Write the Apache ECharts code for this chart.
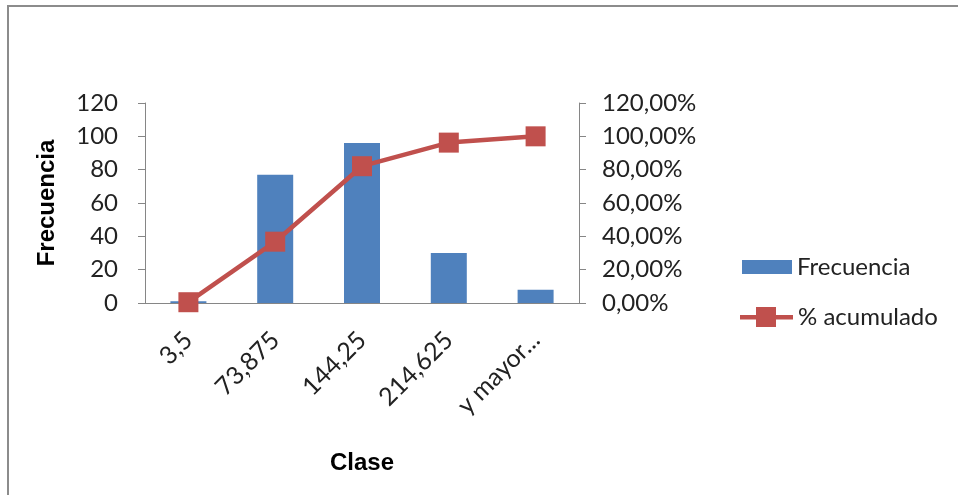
<!DOCTYPE html>
<html>
<head>
<meta charset="utf-8">
<script src="https://cdn.jsdelivr.net/npm/echarts@6/dist/echarts.min.js"></script>
<style>
  html, body { margin: 0; padding: 0; background: #fff; }
  #chart { width: 958px; height: 495px; }
</style>
</head>
<body>
<div id="chart"></div>
<script>
// Histogram classes and frequencies
const clases = ['3,5', '73,875', '144,25', '214,625', 'y mayor...'];
const frecuencia = [1, 77, 96, 30, 8];
// Cumulative percentage per class
const acumulado = [0.47, 36.79, 82.08, 96.23, 100.00];
const leftTicks = [0, 20, 40, 60, 80, 100, 120];

const axisGray = '#868686';
const txtFont = 'Lato, "Open Sans", sans-serif';
const boldFont = '"Liberation Sans", Arial, sans-serif';
const legendText = { fontFamily: txtFont, fontSize: 24, color: '#222', lineHeight: 24 };

const chart = echarts.init(document.getElementById('chart'));
chart.setOption({
  animation: false,
  backgroundColor: '#fff',
  grid: { left: 145, right: 379, top: 103, bottom: 192 },
  legend: [
    {
      left: 742,
      top: 255,
      padding: 0,
      itemWidth: 50,
      itemHeight: 14,
      itemGap: 7,
      icon: 'rect',
      textStyle: legendText,
      data: ['Frecuencia']
    },
    {
      left: 740,
      top: 305,
      padding: 0,
      itemWidth: 53,
      itemHeight: 20,
      // line with a square marker in the middle
      icon: 'path://M0,8 L53,8 L53,12.5 L0,12.5 Z M16,0 L36,0 L36,20 L16,20 Z',
      textStyle: legendText,
      data: ['% acumulado']
    }
  ],
  xAxis: {
    type: 'category',
    data: clases,
    name: 'Clase',
    nameLocation: 'middle',
    nameGap: 148,
    nameTextStyle: { fontFamily: boldFont, fontWeight: 'bold', fontSize: 24, color: '#000' },
    axisLine: { lineStyle: { color: axisGray } },
    axisTick: { length: 8, lineStyle: { color: axisGray } },
    axisLabel: { rotate: 45, margin: 33, fontFamily: txtFont, fontSize: 25, color: '#222' }
  },
  yAxis: [
    {
      type: 'value',
      min: leftTicks[0],
      max: leftTicks[leftTicks.length - 1],
      interval: 20,
      name: 'Frecuencia',
      nameLocation: 'middle',
      nameGap: 86,
      nameTextStyle: { fontFamily: boldFont, fontWeight: 'bold', fontSize: 24, color: '#000' },
      axisLine: { show: true, lineStyle: { color: axisGray } },
      axisTick: { show: true, length: 7, lineStyle: { color: axisGray } },
      splitLine: { show: false },
      axisLabel: { margin: 27, fontFamily: txtFont, fontSize: 24, color: '#222' }
    },
    {
      type: 'value',
      min: 0,
      max: 120,
      interval: 20,
      position: 'right',
      axisLine: { show: true, lineStyle: { color: axisGray } },
      axisTick: { show: true, length: 7, lineStyle: { color: axisGray } },
      splitLine: { show: false },
      axisLabel: {
        margin: 23,
        fontFamily: txtFont,
        fontSize: 24,
        color: '#222',
        formatter: v => v.toFixed(2).replace('.', ',') + '%'
      }
    }
  ],
  series: [
    {
      name: 'Frecuencia',
      type: 'bar',
      data: frecuencia,
      barWidth: 36,
      itemStyle: { color: '#4F81BD' }
    },
    {
      name: '% acumulado',
      type: 'line',
      yAxisIndex: 1,
      data: acumulado,
      symbol: 'rect',
      symbolSize: 20,
      lineStyle: { color: '#C0504D', width: 4.5 },
      itemStyle: { color: '#C0504D' }
    }
  ],
  graphic: [
    {
      type: 'rect',
      shape: { x: 8, y: 6, width: 1000, height: 600 },
      style: { fill: null, stroke: '#8c8c8c', lineWidth: 2 },
      silent: true
    }
  ]
});
</script>
</body>
</html>
